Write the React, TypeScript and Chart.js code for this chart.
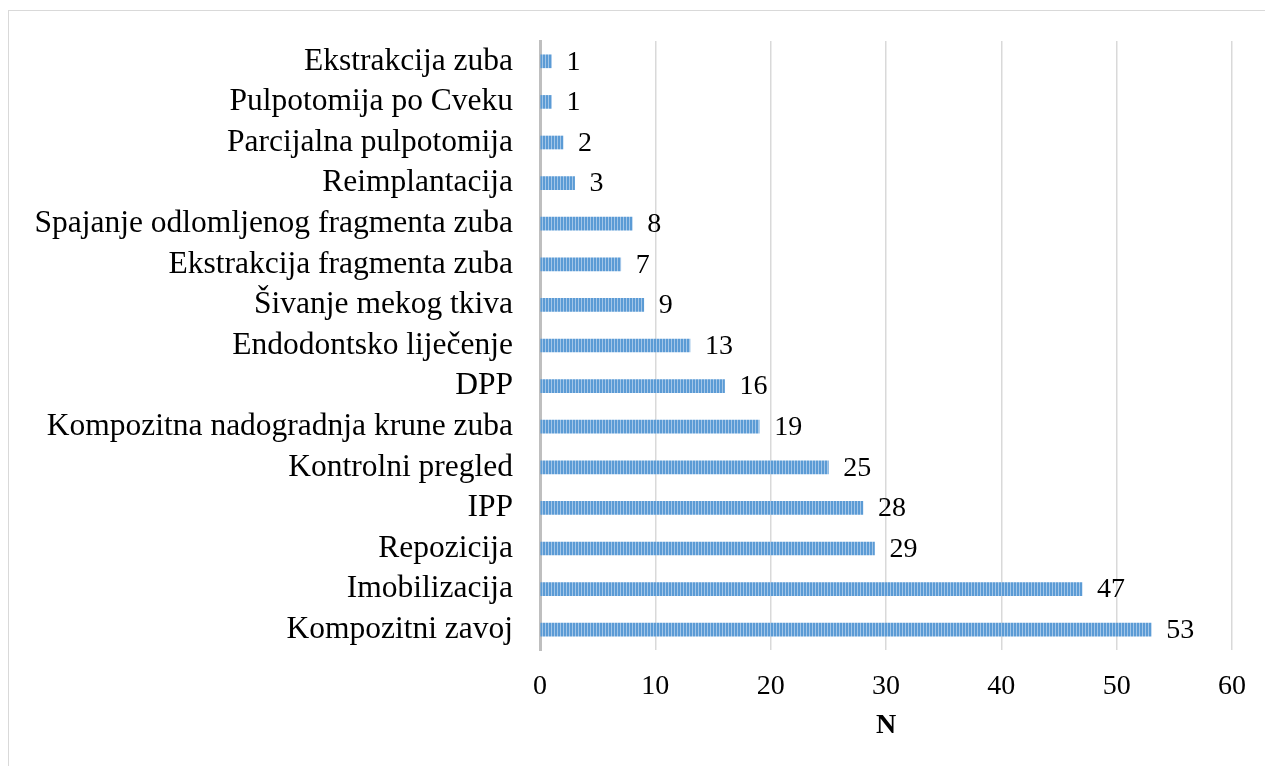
import React, { useEffect, useRef } from "react";
import { Chart, registerables } from "chart.js";

Chart.register(...registerables);

const categories = [
  "Ekstrakcija zuba",
  "Pulpotomija po Cveku",
  "Parcijalna pulpotomija",
  "Reimplantacija",
  "Spajanje odlomljenog fragmenta zuba",
  "Ekstrakcija fragmenta zuba",
  "Šivanje mekog tkiva",
  "Endodontsko liječenje",
  "DPP",
  "Kompozitna nadogradnja krune zuba",
  "Kontrolni pregled",
  "IPP",
  "Repozicija",
  "Imobilizacija",
  "Kompozitni zavoj",
];
const counts = [1, 1, 2, 3, 8, 7, 9, 13, 16, 19, 25, 28, 29, 47, 53];
const xMin = 0;
const xMax = 60;
const xStep = 10;
const xTitle = "N";

const FONT = "'Liberation Serif', 'Times New Roman', serif";

function makePattern(ctx: CanvasRenderingContext2D): CanvasPattern | string {
  const c = document.createElement("canvas");
  c.width = 3;
  c.height = 4;
  const p = c.getContext("2d");
  if (!p) return "#5B9BD5";
  p.fillStyle = "#5B9BD5";
  p.fillRect(0, 0, 2, 4);
  p.fillStyle = "#A3C6E8";
  p.fillRect(2, 0, 1, 4);
  return ctx.createPattern(c, "repeat") || "#5B9BD5";
}

const valueLabels = {
  id: "valueLabels",
  afterDatasetsDraw(chart: any) {
    const ctx = chart.ctx;
    const meta = chart.getDatasetMeta(0);
    ctx.save();
    ctx.font = `28px ${FONT}`;
    ctx.fillStyle = "#000";
    ctx.textAlign = "left";
    ctx.textBaseline = "middle";
    meta.data.forEach((el: any, i: number) => {
      const v = chart.data.datasets[0].data[i];
      ctx.fillText(String(v), el.x + 15, el.y + 1);
    });
    ctx.restore();
  },
};

export default function App() {
  const ref = useRef<HTMLCanvasElement | null>(null);
  useEffect(() => {
    const canvas = ref.current;
    if (!canvas) return;
    const ctx = canvas.getContext("2d");
    if (!ctx) return;
    const pattern = makePattern(ctx);
    const chart = new Chart(ctx, {
      type: "bar",
      data: {
        labels: categories,
        datasets: [
          {
            data: counts,
            backgroundColor: pattern as any,
            borderWidth: 0,
            barThickness: 13,
          },
        ],
      },
      options: {
        indexAxis: "y",
        animation: false,
        responsive: false,
        maintainAspectRatio: false,
        layout: { padding: { top: 30, right: 33, bottom: 19, left: 0 } },
        plugins: {
          legend: { display: false },
          tooltip: { enabled: false },
        },
        scales: {
          x: {
            min: xMin,
            max: xMax,
            ticks: {
              stepSize: xStep,
              color: "#000",
              font: { family: FONT, size: 28 },
              padding: 20,
            },
            grid: { color: "#d9d9d9", lineWidth: 1.5, drawTicks: false },
            border: { display: false },
            title: {
              display: true,
              text: xTitle,
              color: "#000",
              font: { family: FONT, size: 28, weight: "bold" },
            },
            afterFit(scale: any) {
              scale.height = 97;
              scale.paddingLeft = 0;
              scale.paddingRight = 0;
            },
          },
          y: {
            ticks: {
              color: "#000",
              font: { family: FONT, size: 31.5 },
              padding: 27,
              autoSkip: false,
            },
            grid: { display: false, drawTicks: false },
            border: { display: true, color: "#bfbfbf", width: 3 },
            afterFit(scale: any) {
              scale.width = 531;
              scale.paddingTop = 0;
              scale.paddingBottom = 0;
            },
          },
        },
      },
      plugins: [valueLabels],
    });
    return () => chart.destroy();
  }, []);

  return (
    <div
      style={{
        position: "absolute",
        left: 8,
        top: 10,
        width: 1257,
        height: 756,
        borderTop: "1px solid #d9d9d9",
        borderLeft: "1px solid #d9d9d9",
        boxSizing: "border-box",
        background: "#fff",
        overflow: "hidden",
      }}
    >
      <canvas ref={ref} width={1256} height={755} style={{ display: "block" }} />
    </div>
  );
}
